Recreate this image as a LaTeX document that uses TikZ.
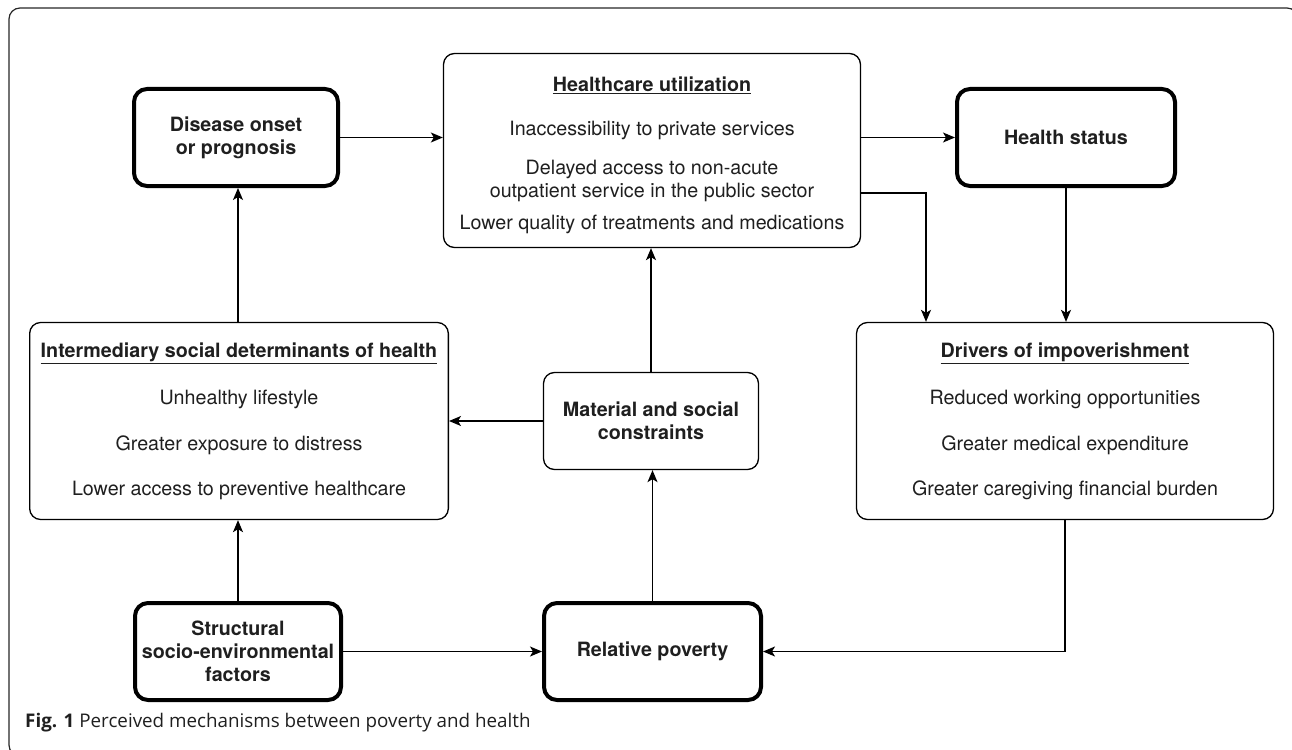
\documentclass[tikz,border=0pt]{standalone}
\usepackage{fontspec}
\setmainfont{TeX Gyre Heros}
\newfontfamily\capfont{Open Sans}
\usetikzlibrary{arrows.meta}
\begin{document}
\begin{tikzpicture}[x=1pt,y=-1pt,
  txt/.style={font=\fontsize{19.7}{23}\selectfont, text=black!88, align=center, inner sep=0pt},
  thickbox/.style={txt, draw=black, line width=4pt, rounded corners=13pt},
  thinbox/.style={txt, draw=black, line width=1.3pt, rounded corners=11pt},
  conn/.style={-{Stealth[length=12pt,width=10pt,inset=3pt]}, line width=1.3pt, black}]
\useasboundingbox (0,0) rectangle (1292,749);
% outer frame
\draw[line width=1.2pt, black!85, rounded corners=11pt] (9,8) rectangle (1298,756);
% boxes
\node[thickbox, minimum width=204pt, minimum height=97pt] (dis) at (236,137.5)
  {\bfseries Disease onset\\\bfseries or prognosis};
\node[thinbox, minimum width=417pt, minimum height=194pt] (hc) at (652,150.5)
  {\rule{0pt}{24pt}\bfseries\underline{Healthcare utilization}\\[21pt]
   Inaccessibility to private services\\[16pt]
   Delayed access to non-acute\\
   outpatient service in the public sector\\[9pt]
   Lower quality of treatments and medications};
\node[thickbox, minimum width=218pt, minimum height=97pt] (hs) at (1066,137.5)
  {\bfseries Health status};
\node[thinbox, minimum width=418.7pt, minimum height=197pt] (inter) at (239,421)
  {\bfseries\underline{Intermediary social determinants of health}\\[24pt]
   Unhealthy lifestyle\\[23pt]
   Greater exposure to distress\\[22pt]
   Lower access to preventive healthcare};
\node[thinbox, minimum width=215pt, minimum height=97pt] (mat) at (651,421)
  {\bfseries Material and social\\\bfseries constraints};
\node[thinbox, minimum width=417pt, minimum height=197pt] (drv) at (1065,421)
  {\bfseries\underline{Drivers of impoverishment}\\[24pt]
   Reduced working opportunities\\[23pt]
   Greater medical expenditure\\[22pt]
   Greater caregiving financial burden};
\node[thickbox, minimum width=206pt, minimum height=97pt] (str) at (238,651.5)
  {\bfseries Structural\\\bfseries socio-environmental\\\bfseries factors};
\node[thickbox, minimum width=217pt, minimum height=97pt] (rp) at (652.5,651.5)
  {\bfseries Relative poverty};
% caption
\node[anchor=base west, inner sep=0pt, font=\capfont\fontsize{18.8}{22}\selectfont, text=black!88] (cap) at (25,727)
  {\textbf{Fig. 1} Perceived mechanisms between poverty and health};
% connectors
\coordinate (bend) at (926,193);
\draw[conn] (dis.east) -- (dis.east -| hc.west);
\draw[conn] (hs.west -| hc.east) -- (hs.west);
\draw[conn] (bend -| hc.east) -- (bend) -- (bend |- drv.north);
\draw[conn] (hs.south) -- (hs.south |- drv.north);
\draw[conn] (str.north) -- (str.north |- inter.south);
\draw[conn] (str.north |- inter.north) -- (str.north |- dis.south);
\draw[conn] (mat.north) -- (mat.north |- hc.south);
\draw[conn] (mat.west) -- (mat.west -| inter.east);
\draw[conn] (str.east) -- (str.east -| rp.west);
\draw[conn] (rp.north) -- (rp.north |- mat.south);
\draw[conn] (drv.south) |- (rp.east);
\end{tikzpicture}
\end{document}
